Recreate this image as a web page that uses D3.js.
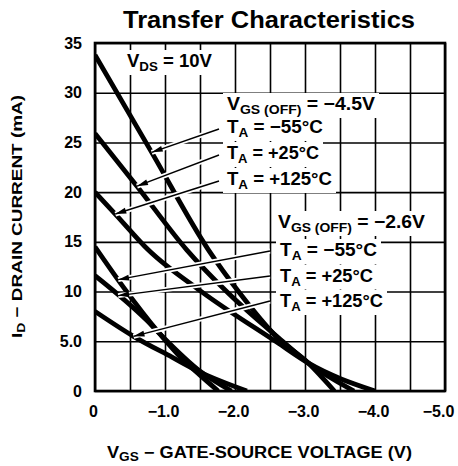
<!DOCTYPE html>
<html>
<head>
<meta charset="utf-8">
<script src="https://cdn.jsdelivr.net/npm/d3@7"></script>
<style>
  body { margin: 0; background: #fff; }
  svg text { font-family: "Liberation Sans", Arial, sans-serif; font-weight: bold; fill: #000; }
</style>
</head>
<body>
<div id="chart"></div>
<script>
// axis ticks
var vTicks = [0, -1, -2, -3, -4, -5];
var vTickLabels = ["0", "\u22121.0", "\u22122.0", "\u22123.0", "\u22124.0", "\u22125.0"];
var idTicks = [0, 5, 10, 15, 20, 25, 30, 35];
var idTickLabels = ["0", "5.0", "10", "15", "20", "25", "30", "35"];
var gridV = [0, -0.5, -1, -1.5, -2, -2.5, -3, -3.5, -4, -4.5, -5];

// curves: [VGS (V), ID (mA)]
// VGS(OFF) = -4.5V
var a_m55 = [[0, 33.8], [-0.81, 24.0], [-1.62, 14.2], [-2.05, 10], [-2.6, 5.4], [-3.05, 2.8], [-3.42, 0]];
var a_p25 = [[0, 25.9], [-0.6, 20.6], [-1.31, 14.2], [-1.88, 10], [-2.68, 5.0], [-3.05, 2.8], [-3.7, 0]];
var a_p125 = [[0, 20.0], [-0.29, 17.8], [-0.76, 14.2], [-1.52, 10], [-2.6, 4.9], [-3.05, 2.8], [-4.0, 0]];
// VGS(OFF) = -2.6V
var b_m55 = [[0, 14.5], [-0.4, 10.5], [-0.92, 5.8], [-1.25, 3.2], [-1.5, 1.6], [-1.76, 0]];
var b_p25 = [[0, 11.6], [-0.74, 7.1], [-0.92, 5.8], [-1.5, 2.0], [-1.95, 0]];
var b_p125 = [[0, 8.0], [-0.55, 5.5], [-1.1, 3.4], [-1.5, 1.9], [-2.17, 0]];

var curves = [a_m55, a_p25, a_p125, b_m55, b_p25, b_p125];

// labels and where each arrow touches its curve (VGS)
var labelsA = ["\u221255", "+25", "+125"];
var labelsB = ["\u221255", "+25", "+125"];
var arrowVA = [-0.81, -0.6, -0.29];
var arrowVB = [-0.33, -0.33, -0.55];

// set the dimensions and margins of the graph
var margin = { top: 43, right: 13, bottom: 75, left: 95 },
  width = 350,
  height = 348;

var svg = d3.select("#chart")
  .append("svg")
  .attr("width", width + margin.left + margin.right)
  .attr("height", height + margin.top + margin.bottom);

var g = svg.append("g")
  .attr("transform", "translate(" + margin.left + "," + margin.top + ")");

var x = d3.scaleLinear().domain([0, -5]).range([0, width]);
var y = d3.scaleLinear().domain([0, 35]).range([height, 0]);

// grid
var gx = g.append("g")
  .attr("transform", "translate(0," + height + ")")
  .call(d3.axisBottom(x).tickValues(gridV).tickSize(-height).tickFormat(""));
var gy = g.append("g")
  .call(d3.axisLeft(y).tickValues(idTicks).tickSize(-width).tickFormat(""));
[gx, gy].forEach(function (a) {
  a.select(".domain").remove();
  a.selectAll("line").attr("stroke", "#000").attr("stroke-width", 1.6);
});

// curves
svg.append("clipPath").attr("id", "clip")
  .append("rect").attr("width", width).attr("height", height);

var line = d3.line()
  .x(function (d) { return x(d[0]); })
  .y(function (d) { return y(d[1]); })
  .curve(d3.curveMonotoneX);

g.append("g").attr("clip-path", "url(#clip)")
  .selectAll("path")
  .data(curves)
  .enter().append("path")
  .attr("d", line)
  .attr("fill", "none")
  .attr("stroke", "#000")
  .attr("stroke-width", 4.8)
  .attr("stroke-linejoin", "round");

function idAt(c, v) {
  for (var i = 0; i < c.length - 1; i++) {
    if (v <= c[i][0] && v >= c[i + 1][0]) {
      var t = (v - c[i][0]) / (c[i + 1][0] - c[i][0]);
      return c[i][1] + t * (c[i + 1][1] - c[i][1]);
    }
  }
  return 0;
}

var ann = g.append("g");

// text helper: main text with subscript pieces, squeezed to the width seen in the reference
function label(px, py, parts, size, len) {
  var t = ann.append("text").attr("x", px).attr("y", py).attr("font-size", size)
    .attr("textLength", len).attr("lengthAdjust", "spacingAndGlyphs");
  parts.forEach(function (p) {
    var s = t.append("tspan").text(p[0]);
    if (p[1] == "sub") s.attr("font-size", size * 0.72).attr("dy", 4);
    if (p[1] == "up") s.attr("dy", -4);
  });
  return t;
}

var lenA = [96, 92, 105], lenB = [97, 93, 103];
var texts = [];
texts.push(label(32, 24, [["V"], ["DS", "sub"], [" = 10V", "up"]], 18, 85));
texts.push(label(132, 67, [["V"], ["GS (OFF)", "sub"], [" = \u22124.5V", "up"]], 18, 148));
labelsA.forEach(function (l, i) {
  texts.push(label(132, 90 + i * 26, [["T"], ["A", "sub"], ["  =  " + l + "\u00b0C", "up"]], 18, lenA[i]));
});
texts.push(label(183, 185, [["V"], ["GS (OFF)", "sub"], [" = \u22122.6V", "up"]], 18, 147));
labelsB.forEach(function (l, i) {
  texts.push(label(185, 213 + i * 25.5, [["T"], ["A", "sub"], ["  =  " + l + "\u00b0C", "up"]], 18, lenB[i]));
});

// white boxes behind text
texts.forEach(function (t) {
  var b = t.node().getBBox();
  ann.insert("rect", "text")
    .attr("x", b.x - 4).attr("y", b.y - 1)
    .attr("width", b.width + 8).attr("height", b.height + 2)
    .attr("fill", "#fff");
});

// arrows
function arrow(sx, sy, c, v) {
  var tx = x(v), ty = y(idAt(c, v));
  ann.append("line").attr("x1", sx).attr("y1", sy).attr("x2", tx).attr("y2", ty)
    .attr("stroke", "#fff").attr("stroke-width", 5);
  ann.append("line").attr("x1", sx).attr("y1", sy).attr("x2", tx).attr("y2", ty)
    .attr("stroke", "#000").attr("stroke-width", 1.4);
  var a = Math.atan2(ty - sy, tx - sx), L = 11, W = 3;
  var bx = tx - L * Math.cos(a), by = ty - L * Math.sin(a);
  ann.append("path")
    .attr("d", "M" + tx + "," + ty + "L" + (bx - W * Math.sin(a)) + "," + (by + W * Math.cos(a)) +
      "L" + (bx + W * Math.sin(a)) + "," + (by - W * Math.cos(a)) + "Z")
    .attr("fill", "#000");
}
[a_m55, a_p25, a_p125].forEach(function (c, i) {
  arrow(124, 86 + i * 26, c, arrowVA[i]);
});
[b_m55, b_p25, b_p125].forEach(function (c, i) {
  arrow(175, 208 + i * 25, c, arrowVB[i]);
});

// border
g.append("rect").attr("width", width).attr("height", height)
  .attr("fill", "none").attr("stroke", "#000").attr("stroke-width", 2.6);

// axes labels
var ax = g.append("g")
  .attr("transform", "translate(0," + height + ")")
  .call(d3.axisBottom(x).tickValues(vTicks).tickSize(0).tickPadding(15)
    .tickFormat(function (d, i) { return vTickLabels[i]; }));
ax.selectAll(".tick text").attr("dx", function (d, i) { return i == 5 ? -7 : -2; });
var ay = g.append("g")
  .call(d3.axisLeft(y).tickValues(idTicks).tickSize(0).tickPadding(13)
    .tickFormat(function (d, i) { return idTickLabels[i]; }));
[ax, ay].forEach(function (a) {
  a.select(".domain").remove();
  a.attr("font-family", null).attr("font-size", 16);
});

// titles
svg.append("text")
  .attr("x", 123).attr("y", 28)
  .attr("font-size", 23)
  .attr("textLength", 292).attr("lengthAdjust", "spacingAndGlyphs")
  .text("Transfer Characteristics");

var xt = svg.append("text").attr("x", 107).attr("y", 458)
  .attr("font-size", 16)
  .attr("textLength", 305).attr("lengthAdjust", "spacingAndGlyphs");
xt.append("tspan").text("V");
xt.append("tspan").text("GS").attr("font-size", 12).attr("dy", 3);
xt.append("tspan").text(" \u2212 GATE-SOURCE VOLTAGE (V)").attr("dy", -3);

var yt = svg.append("text")
  .attr("transform", "translate(22,338) rotate(-90)")
  .attr("font-size", 15)
  .attr("textLength", 243).attr("lengthAdjust", "spacingAndGlyphs");
yt.append("tspan").text("I");
yt.append("tspan").text("D").attr("font-size", 11).attr("dy", 3);
yt.append("tspan").text(" \u2212 DRAIN CURRENT (mA)").attr("dy", -3);
</script>
</body>
</html>
